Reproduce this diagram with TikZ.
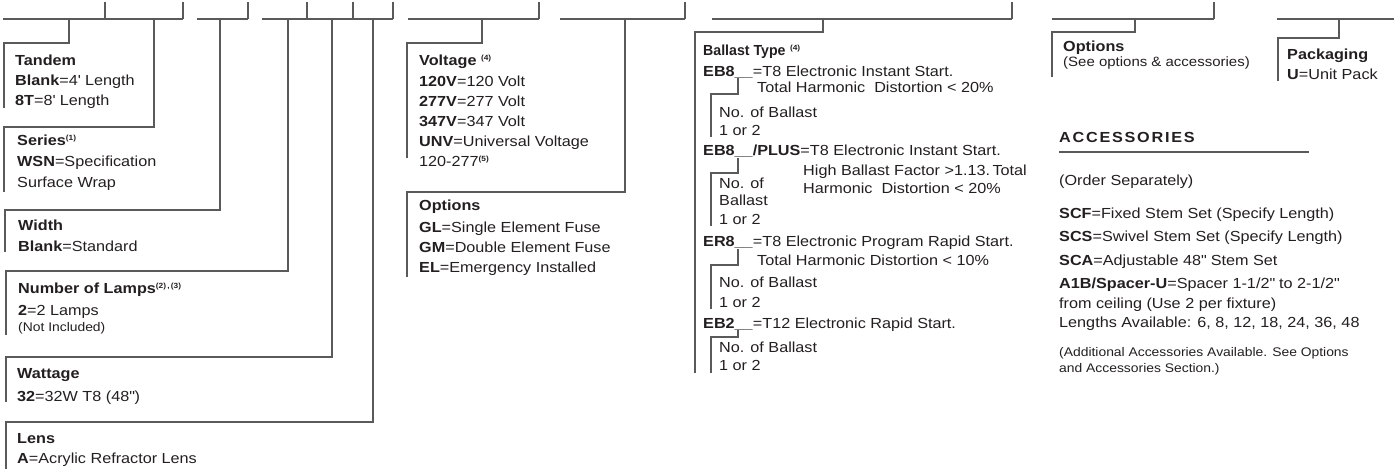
\documentclass[tikz,border=0pt]{standalone}
\usepackage{fontspec}
\setmainfont{Liberation Sans}[FakeStretch=1.11]
\newfontfamily\plainsans{Liberation Sans}[FakeStretch=0.97]
\definecolor{linec}{RGB}{90,90,90}
\definecolor{txt}{RGB}{35,31,32}
\newcommand{\fsz}[1]{\fontsize{#1}{#1}\selectfont}
\newcommand{\sups}[1]{\raisebox{5pt}{\fsz{7.5}\bfseries #1}}
\tikzset{
  t/.style={anchor=base west, inner sep=0pt, text=txt, font=\fsz{14.6}},
  tm/.style={t, font=\fsz{13.5}},
  ts/.style={t, font=\fsz{12.5}},
  ln/.style={draw=linec, line width=1.1pt}
}
\begin{document}
\begin{tikzpicture}[x=1pt,y=-1pt]
\useasboundingbox (0,0) rectangle (1394,469);
% top segments
\draw[ln] (3,19) -- (183,19);
\draw[ln] (197,19) -- (248,19);
\draw[ln] (262,19) -- (393,19);
\draw[ln] (408,19) -- (539,19);
\draw[ln] (560,19) -- (685,19);
\draw[ln] (712,19) -- (1012,19);
\draw[ln] (1052,19) -- (1214,19);
\draw[ln] (1277,19) -- (1394,19);
% ticks
\foreach \x in {105,183,248,307,353,393,539,685,1012,1214}
  \draw[ln] (\x,2) -- (\x,19);
% drops to boxes (left column)
\draw[ln] (69,19) -- (69,43) -- (4,43) -- (4,108);
\draw[ln] (154,19) -- (154,127) -- (4,127) -- (4,192);
\draw[ln] (220,19) -- (220,210) -- (5,210) -- (5,252);
\draw[ln] (288,19) -- (288,271) -- (6,271) -- (6,335);
\draw[ln] (332,19) -- (332,357) -- (6,357) -- (6,402);
\draw[ln] (373,19) -- (373,422) -- (6,422) -- (6,469);
% middle
\draw[ln] (482,19) -- (482,43) -- (407,43) -- (407,158);
\draw[ln] (625,19) -- (625,192) -- (407,192) -- (407,277);
% ballast
\draw[ln] (823,19) -- (823,32) -- (695,32) -- (695,373);
\draw[ln] (738,78) -- (738,94) -- (711,94) -- (711,137);
\draw[ln] (738,158) -- (738,173) -- (711,173) -- (711,226);
\draw[ln] (738,249) -- (738,265) -- (711,265) -- (711,309);
\draw[ln] (738,330) -- (738,337) -- (711,337) -- (711,373);
% right
\draw[ln] (1135,19) -- (1135,32) -- (1052,32) -- (1052,77);
\draw[ln] (1339,19) -- (1339,38) -- (1278,38) -- (1278,81);
\draw[ln] (1059,152) -- (1309,152);

% left texts
\node[t] (tan1) at (15,65) {\textbf{Tandem}};
\node[t] (tan2) at (15,85) {\textbf{Blank}=4\textquotesingle\ Length};
\node[t] (tan3) at (15,105) {\textbf{8T}=8\textquotesingle\ Length};
\node[t] (ser1) at (17,145) {\textbf{Series}\sups{(1)}};
\node[t] (ser2) at (17,166) {\textbf{WSN}=Specification};
\node[t] (ser3) at (17,187) {Surface Wrap};
\node[t] (wid1) at (18,230) {\textbf{Width}};
\node[t] (wid2) at (18,251) {\textbf{Blank}=Standard};
\node[t] (lam1) at (18,293) {\textbf{Number of Lamps}\sups{(2)\,,\,(3)}};
\node[t] (lam2) at (18,315) {\textbf{2}=2 Lamps};
\node[ts] (lam3) at (18,331) {(Not Included)};
\node[t] (wat1) at (17,378) {\textbf{Wattage}};
\node[t] (wat2) at (17,401) {\textbf{32}=32W T8 (48\textquotedbl)};
\node[t] (len1) at (17,443) {\textbf{Lens}};
\node[t] (len2) at (17,463) {\textbf{A}=Acrylic Refractor Lens};

% voltage / options
\node[t] (vol1) at (419,65) {\textbf{Voltage} \sups{(4)}};
\node[t] (vol2) at (419,86) {\textbf{120V}=120 Volt};
\node[t] (vol3) at (419,106) {\textbf{277V}=277 Volt};
\node[t] (vol4) at (419,126) {\textbf{347V}=347 Volt};
\node[t] (vol5) at (419,146) {\textbf{UNV}=Universal Voltage};
\node[t] (vol6) at (419,166) {120-277\sups{(5)}};
\node[t] (opt1) at (419,210) {\textbf{Options}};
\node[t] (opt2) at (419,232) {\textbf{GL}=Single Element Fuse};
\node[t] (opt3) at (419,252) {\textbf{GM}=Double Element Fuse};
\node[t] (opt4) at (419,272) {\textbf{EL}=Emergency Installed};

% ballast
\node[t] (bal0) at (703,55) {{\plainsans\bfseries Ballast Type} \sups{(4)}};
\node[t] (bal1) at (703,76) {\textbf{EB8\_\_}=T8 Electronic Instant Start.};
\node[t] (bal2) at (757,92) {Total Harmonic\ \ Distortion < 20\%};
\node[t] (bal3) at (719,117) {No. of Ballast};
\node[t] (bal4) at (719,135) {1 or 2};
\node[t] (bal5) at (703,155) {\textbf{EB8\_\_/PLUS}=T8 Electronic Instant Start.};
\node[t] (bal6) at (803,175) {High Ballast Factor >1.13.\,Total};
\node[t] (bal7) at (719,188) {No. of};
\node[t] (bal8) at (803,193) {Harmonic\ \ Distortion < 20\%};
\node[t] (bal9) at (719,205) {Ballast};
\node[t] (bal10) at (719,224) {1 or 2};
\node[t] (bal11) at (703,246) {\textbf{ER8\_\_}=T8 Electronic Program Rapid Start.};
\node[t] (bal12) at (757,265) {Total Harmonic Distortion < 10\%};
\node[t] (bal13) at (719,287) {No. of Ballast};
\node[t] (bal14) at (719,307) {1 or 2};
\node[t] (bal15) at (703,328) {\textbf{EB2\_\_}=T12 Electronic Rapid Start.};
\node[t] (bal16) at (719,352) {No. of Ballast};
\node[t] (bal17) at (719,370) {1 or 2};

% right
\node[t] (ro1) at (1063,51) {\textbf{Options}};
\node[tm] (ro2) at (1063,66) {(See options \& accessories)};
\node[t] (pk1) at (1287,59) {\textbf{Packaging}};
\node[t] (pk2) at (1287,79) {\textbf{U}=Unit Pack};
\node[t] (acc0) at (1059,142) {\addfontfeature{LetterSpace=12}\textbf{ACCESSORIES}};
\node[t] (acc1) at (1059,185) {(Order Separately)};
\node[t] (acc2) at (1059,218) {\textbf{SCF}=Fixed Stem Set (Specify Length)};
\node[t] (acc3) at (1059,241) {\textbf{SCS}=Swivel Stem Set (Specify Length)};
\node[t] (acc4) at (1059,265) {\textbf{SCA}=Adjustable 48\textquotedbl\ Stem Set};
\node[t] (acc5) at (1059,288) {\textbf{A1B/Spacer-U}=Spacer 1-1/2\textquotedbl\ to 2-1/2\textquotedbl};
\node[t] (acc6) at (1059,308) {from ceiling (Use 2 per fixture)};
\node[t] (acc7) at (1059,327) {Lengths Available: 6, 8, 12, 18, 24, 36, 48};
\node[ts] (acc8) at (1059,356) {(Additional Accessories Available. See Options};
\node[ts] (acc9) at (1059,372) {and Accessories Section.)};
\end{tikzpicture}
\end{document}
